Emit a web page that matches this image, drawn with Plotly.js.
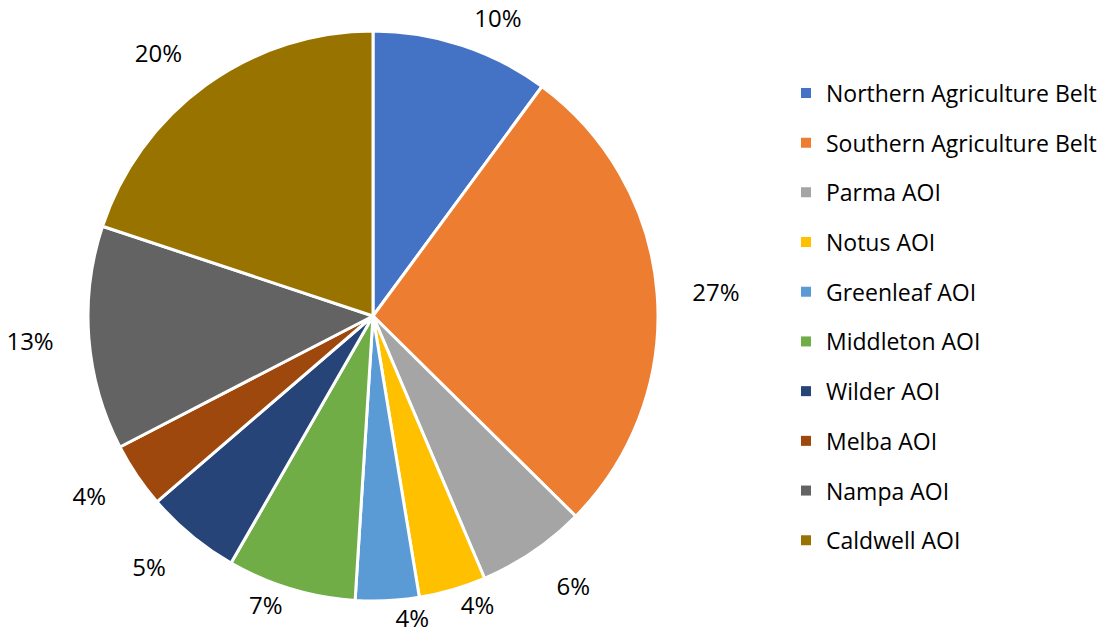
<!DOCTYPE html>
<html>
<head>
<meta charset="utf-8">
<script src="https://cdn.plot.ly/plotly-3.0.1.min.js"></script>
<style>
  html, body { margin: 0; padding: 0; background: #fff; }
  #chart { width: 1118px; height: 634px; }
</style>
</head>
<body>
<div id="chart"></div>
<script>
// Categories (clockwise from 12 o'clock)
const categories = [
  "Northern Agriculture Belt",
  "Southern Agriculture Belt",
  "Parma AOI",
  "Notus AOI",
  "Greenleaf AOI",
  "Middleton AOI",
  "Wilder AOI",
  "Melba AOI",
  "Nampa AOI",
  "Caldwell AOI"
];
// Share of total (percent)
const shares = [10.1, 27.3, 6.2, 3.8, 3.6, 7.3, 5.4, 3.7, 12.7, 19.9];
// Slice colours
const colors = [
  "#4472C4", "#ED7D31", "#A5A5A5", "#FFC000", "#5B9BD5",
  "#70AD47", "#264478", "#9E480E", "#636363", "#997300"
];

const FONT = "'Open Sans', 'Noto Sans', sans-serif";
const W = 1118, H = 634;
const CX = 373, CY = 316, R = 285;      // pie centre and radius (px)

function dom(r) {
  return {
    x: [(CX - r) / W, (CX + r) / W],
    y: [(H - CY - r) / H, (H - CY + r) / H]
  };
}

// label layers: each slice's percentage is drawn by one layer;
// layers differ only in the radius around which Plotly places the text
const layerRadius = [R, R, 298, 312];
const labelLayer = [2, 3, 3, 0, 1, 0, 3, 3, 3, 3];
const pos = (layer) => labelLayer.map(l => (l === layer ? "outside" : "none"));

const textFont = { family: FONT, size: 24, color: "#000000" };
const clear = categories.map(() => "rgba(0,0,0,0)");

const pieBase = {
  type: "pie",
  labels: categories,
  values: shares,
  sort: false,
  direction: "clockwise",
  rotation: 0,
  texttemplate: "%{percent:.0%}",
  textfont: textFont,
  outsidetextfont: textFont,
  showlegend: false,
  hoverinfo: "skip"
};

const pies = layerRadius.map((r, layer) => Object.assign({}, pieBase, {
  marker: layer === 0
    ? { colors: colors, line: { color: "#ffffff", width: 3 } }
    : { colors: clear, line: { width: 0 } },
  textposition: pos(layer),
  domain: dom(r)
}));

// Legend entries (one per category, same colours)
const legendTraces = categories.map((c, i) => ({
  type: "scatter",
  mode: "markers",
  x: [null],
  y: [null],
  name: c,
  legendgroup: "g" + i,
  marker: { symbol: "square", size: 10, color: colors[i] },
  showlegend: true,
  hoverinfo: "skip"
}));

const layout = {
  width: W,
  height: H,
  margin: { l: 0, r: 0, t: 0, b: 0 },
  paper_bgcolor: "#ffffff",
  plot_bgcolor: "#ffffff",
  font: { family: FONT, size: 23, color: "#000000" },
  xaxis: { visible: false },
  yaxis: { visible: false },
  showlegend: true,
  legend: {
    x: 786 / W,
    xanchor: "left",
    y: 0.5,
    yanchor: "middle",
    traceorder: "grouped",
    tracegroupgap: 16.8,
    itemwidth: 30,
    font: { family: FONT, size: 23, color: "#000000" },
    bgcolor: "rgba(0,0,0,0)"
  }
};

Plotly.newPlot("chart", pies.concat(legendTraces), layout,
  { displayModeBar: false, staticPlot: true });
</script>
</body>
</html>
